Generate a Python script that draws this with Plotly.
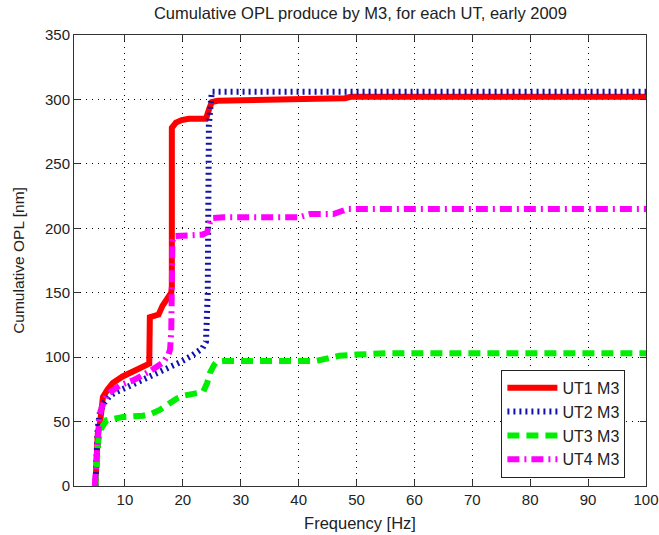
import plotly.graph_objects as go

# ---- data ----
ut1_f = [4.9, 5.0, 5.3, 5.7, 6.2, 7.0, 7.9, 9.6, 12.0, 14.0, 14.2, 14.3, 15.8, 16.5, 17.5, 18.0, 18.1, 18.1, 18.8, 19.8, 21.0, 24.0, 24.5, 25.0, 26.0, 42.0, 43.0, 48.0, 49.0, 100.0]
ut1_v = [0, 20, 40, 49, 69, 75, 80, 85, 90, 94, 95, 131, 133, 140, 148, 150, 155, 278, 282, 284, 285, 285, 292, 298, 299, 299.5, 300.5, 301, 302, 302]

ut2_f = [4.9, 5.0, 5.3, 5.7, 6.5, 7.4, 8.5, 10.5, 12.5, 14.8, 17.0, 19.5, 21.5, 23.4, 24.0, 24.3, 24.5, 24.7, 25.0, 100.0]
ut2_v = [0, 20, 45, 58, 65, 70, 73, 77, 81, 86, 91, 96, 101, 107, 112, 150, 280, 300, 306, 306]

ut3_f = [4.9, 5.1, 5.4, 5.8, 6.8, 8.0, 9.7, 13.1, 14.5, 16.0, 17.5, 19.0, 20.0, 21.7, 23.5, 24.2, 24.7, 25.4, 25.9, 27.0, 43.0, 45.0, 47.0, 50.0, 55.0, 100.0]
ut3_v = [0, 15, 35, 44, 51, 52, 53.6, 54.5, 56, 59, 64, 68, 70, 72, 73, 80, 88, 94, 96.5, 97, 97, 99, 101, 102, 103, 103]

ut4_f = [4.8, 5.0, 5.2, 5.3, 5.6, 6.0, 6.9, 9.1, 11.4, 14.3, 16.6, 17.5, 17.8, 18.0, 18.1, 18.2, 18.5, 21.0, 23.4, 24.2, 24.7, 25.2, 27.0, 40.0, 42.0, 46.0, 48.5, 100.0]
ut4_v = [0, 15, 30, 49, 55, 61, 71, 78, 82, 89, 96, 102, 106, 120, 150, 190, 194, 194, 195, 197, 205, 208, 208.5, 208.5, 211, 211, 215, 215]

series = [
    ("UT1 M3", ut1_f, ut1_v, "#ff0000", "solid", 6),
    ("UT2 M3", ut2_f, ut2_v, "#1010b0", "2px,4px", 6),
    ("UT3 M3", ut3_f, ut3_v, "#00ee00", "12px,7px", 6),
    ("UT4 M3", ut4_f, ut4_v, "#ff00ff", "12px,5px,2px,5px", 6),
]

x_ticks = [10, 20, 30, 40, 50, 60, 70, 80, 90, 100]
y_ticks = [0, 50, 100, 150, 200, 250, 300, 350]

FONT = "Liberation Sans, Arial, sans-serif"

fig = go.Figure()
for name, f, v, color, dash, w in series:
    fig.add_trace(go.Scatter(x=f, y=v, mode="lines", name=name,
                             line=dict(color=color, dash=dash, width=w)))

axis_common = dict(
    showline=True, linecolor="#333333", linewidth=1, mirror="ticks",
    ticks="inside", ticklen=6, tickcolor="#333333",
    showgrid=True, gridcolor="#000000", griddash="1px,5px", gridwidth=1,
    zeroline=False, automargin=False,
    tickfont=dict(family=FONT, size=15, color="#222222"),
)

fig.update_layout(
    width=659, height=535,
    margin=dict(l=74, r=13, t=35, b=49),
    paper_bgcolor="white", plot_bgcolor="white",
    font=dict(family=FONT, size=15, color="#222222"),
    title=dict(text="Cumulative OPL produce by M3, for each UT, early 2009",
               x=0.547, xanchor="center", y=1 - 13 / 535, yanchor="middle", yref="container",
               font=dict(family=FONT, size=16.5, color="#222222")),
    xaxis=dict(range=[1.2, 100], tickvals=x_ticks,
               title=dict(text="Frequency [Hz]", standoff=10, font=dict(family=FONT, size=16.5)),
               **axis_common),
    yaxis=dict(range=[0, 350], tickvals=y_ticks,
               title=dict(text="Cumulative OPL [nm]", standoff=16, font=dict(family=FONT, size=15.5)),
               **axis_common),
    legend=dict(x=0.964, y=0.018, xanchor="right", yanchor="bottom",
                bgcolor="white", bordercolor="#222222", borderwidth=1,
                font=dict(family=FONT, size=16, color="#222222"),
                itemwidth=50, tracegroupgap=0),
    showlegend=True,
)

fig.write_html("out.html")
